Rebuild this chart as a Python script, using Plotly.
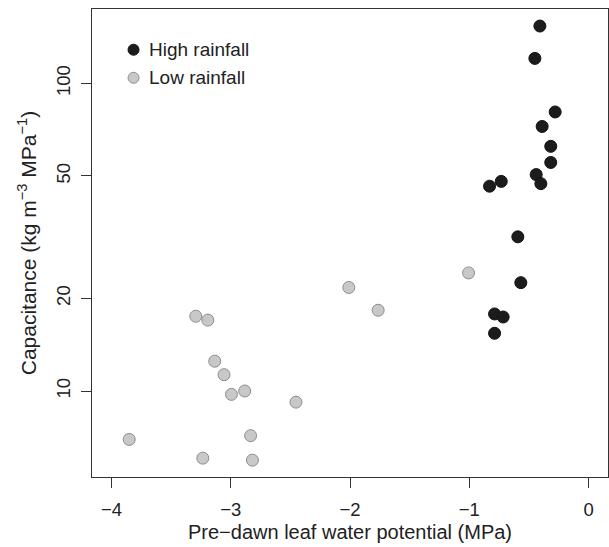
import plotly.graph_objects as go

# Pre-dawn leaf water potential (MPa) and capacitance (kg m-3 MPa-1)
high_psi = [-0.408, -0.45, -0.28, -0.389, -0.317, -0.317, -0.439, -0.40,
            -0.732, -0.830, -0.593, -0.568, -0.788, -0.716, -0.788]
high_cap = [153.5, 120.5, 80.7, 72.4, 62.4, 55.3, 50.5, 47.2,
            48.0, 46.3, 31.7, 22.5, 17.8, 17.4, 15.4]

low_psi = [-1.006, -2.01, -1.764, -3.293, -3.192, -3.134, -3.056, -2.994,
           -2.883, -2.453, -3.851, -2.833, -3.234, -2.818]
low_cap = [24.2, 21.7, 18.3, 17.5, 17.0, 12.5, 11.3, 9.75,
           10.0, 9.2, 6.96, 7.16, 6.05, 5.96]

x_ticks = [-4, -3, -2, -1, 0]
x_tick_text = ["\u22124", "\u22123", "\u22122", "\u22121", "0"]
y_ticks = [10, 20, 50, 100]
y_tick_text = ["10", "20", "50", "100"]

groups = ["High rainfall", "Low rainfall"]
fills = ["#1c1c1c", "#c8c8c8"]
edges = ["#111111", "#8e8e8e"]

FONT = "Liberation Sans, Arial, sans-serif"
INK = "#222222"

fig = go.Figure()
for name, xs, ys, fc, ec in zip(groups, [high_psi, low_psi], [high_cap, low_cap], fills, edges):
    fig.add_trace(go.Scatter(
        x=xs, y=ys, mode="markers", name=name, showlegend=False,
        marker=dict(size=12, color=fc, line=dict(color=ec, width=1)),
    ))

axis_common = dict(
    showline=True, mirror=True, linecolor="#333333", linewidth=1.3,
    ticks="outside", ticklen=10, tickwidth=1.2, tickcolor="#333333",
    showgrid=False, zeroline=False,
    tickfont=dict(family=FONT, size=18.5, color=INK),
)

fig.update_layout(
    width=609, height=547,
    margin=dict(l=92, r=1, t=9, b=70),
    paper_bgcolor="white", plot_bgcolor="white",
    font=dict(family=FONT, size=18, color=INK),
    xaxis=dict(
        range=[-4.163, 0.163], tickvals=x_ticks, ticktext=x_tick_text,
        ticklabelstandoff=6,
        title=dict(text="Pre\u2212dawn leaf water potential (MPa)",
                   font=dict(family=FONT, size=20, color=INK), standoff=5),
        **axis_common,
    ),
    yaxis=dict(
        type="log", range=[0.7205, 2.2415], tickvals=y_ticks, ticktext=y_tick_text,
        tickangle=-90, ticklabelstandoff=3,
        title=dict(text="Capacitance (kg m<sup>\u22123</sup> MPa<sup>\u22121</sup>)",
                   font=dict(family=FONT, size=21, color=INK), standoff=11),
        **axis_common,
    ),
    showlegend=False,
)

# Key in the upper-left corner of the panel
key_x = 0.0805          # symbol centre, fraction of panel width
key_text_x = 0.107      # left edge of the label
key_y = [0.913, 0.853]  # row centres, fraction of panel height
for name, fc, ec, ky in zip(groups, fills, edges, key_y):
    fig.add_shape(
        type="circle", xref="paper", yref="paper",
        xsizemode="pixel", ysizemode="pixel",
        xanchor=key_x, yanchor=ky, x0=-5.5, x1=5.5, y0=-5.5, y1=5.5,
        fillcolor=fc, line=dict(color=ec, width=1),
    )
    fig.add_annotation(
        x=key_text_x, y=ky, xref="paper", yref="paper",
        text=name, showarrow=False, xanchor="left", yanchor="middle",
        font=dict(family=FONT, size=19, color=INK),
    )

fig.write_html("out.html")
